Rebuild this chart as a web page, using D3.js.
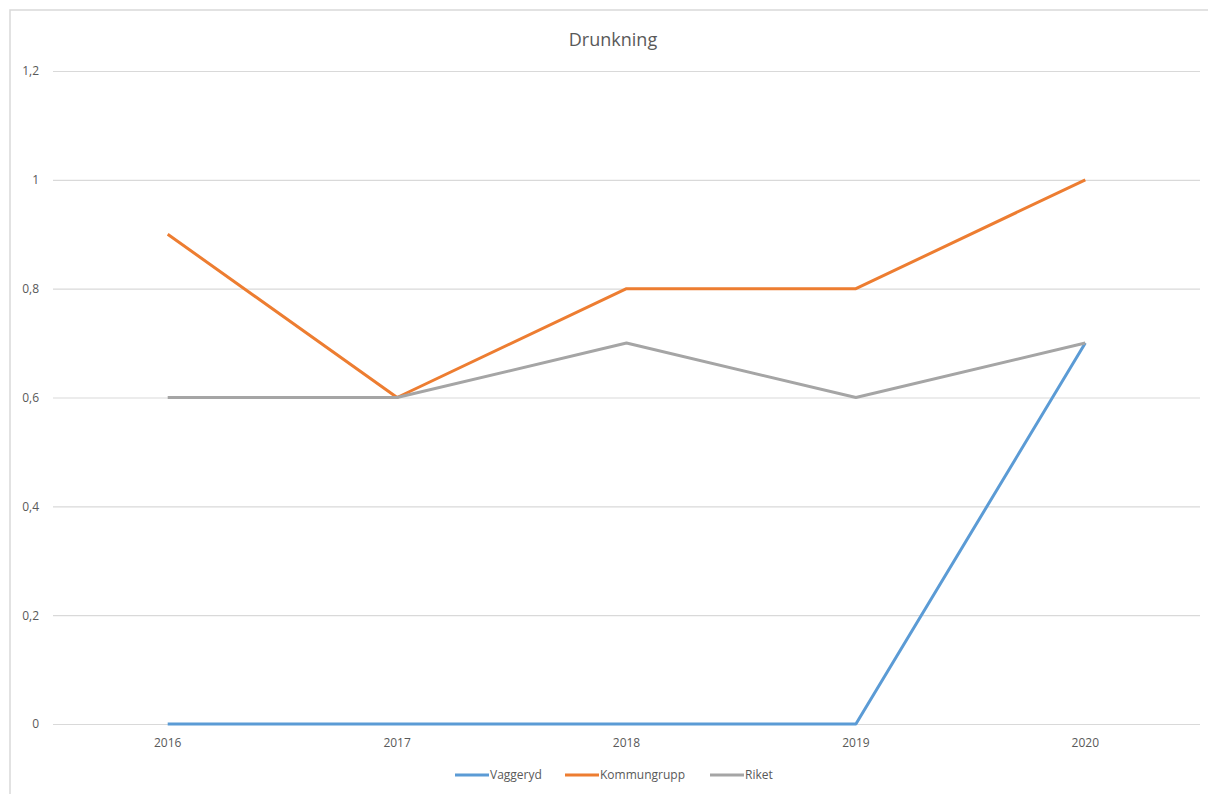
<!DOCTYPE html>
<html>
<head>
<meta charset="utf-8">
<script src="https://cdn.jsdelivr.net/npm/d3@7"></script>
<style>
  body { margin: 0; background: #fff; }
  svg { display: block; }
</style>
</head>
<body>
<script>
var years = ["2016", "2017", "2018", "2019", "2020"];
var vaggeryd = [0, 0, 0, 0, 0.7];
var kommungrupp = [0.9, 0.6, 0.8, 0.8, 1];
var riket = [0.6, 0.6, 0.7, 0.6, 0.7];
var yTicks = [0, 0.2, 0.4, 0.6, 0.8, 1, 1.2];

var series = [
    { name: "Vaggeryd", values: vaggeryd, color: "#5b9bd5" },
    { name: "Kommungrupp", values: kommungrupp, color: "#ed7d31" },
    { name: "Riket", values: riket, color: "#a5a5a5" }
];

var width = 1208, height = 794;
// plot area edges ("top" is taken by window.top, so use other names)
var plotLeft = 53, plotRight = 1200, plotTop = 71, plotBottom = 724;

var svg = d3.select("body").append("svg")
    .attr("width", width)
    .attr("height", height);

// chart frame
svg.append("rect")
    .attr("x", 10).attr("y", 10)
    .attr("width", width + 10).attr("height", height + 10)
    .attr("fill", "#fff")
    .attr("stroke", "#d9d9d9")
    .attr("stroke-width", 1.5);

var x = d3.scaleBand().domain(years).range([plotLeft, plotRight]);
var y = d3.scaleLinear().domain([0, 1.2]).range([plotBottom, plotTop]);

var fmt = function (d) { return String(d).replace(".", ","); };

// gridlines + y labels
var yAxis = d3.axisLeft(y)
    .tickValues(yTicks)
    .tickSize(-(plotRight - plotLeft))
    .tickPadding(14)
    .tickFormat(fmt);

var gy = svg.append("g")
    .attr("transform", "translate(" + plotLeft + ",0)")
    .call(yAxis);
gy.select(".domain").remove();
gy.selectAll(".tick line").attr("stroke", "#d9d9d9").attr("stroke-width", 1.2);
gy.selectAll(".tick text")
    .attr("fill", "#595959")
    .attr("font-family", "Open Sans, sans-serif")
    .attr("font-size", "12px");

// x labels
var xAxis = d3.axisBottom(x).tickSize(0).tickPadding(14);
var gx = svg.append("g")
    .attr("transform", "translate(0," + plotBottom + ")")
    .call(xAxis);
gx.select(".domain").remove();
gx.selectAll(".tick text")
    .attr("fill", "#595959")
    .attr("font-family", "Open Sans, sans-serif")
    .attr("font-size", "12px");

// lines
var line = d3.line()
    .x(function (d, i) { return x(years[i]) + x.bandwidth() / 2; })
    .y(function (d) { return y(d); });

svg.selectAll("path.series")
    .data(series)
    .enter()
    .append("path")
    .attr("class", "series")
    .attr("d", function (d) { return line(d.values); })
    .attr("fill", "none")
    .attr("stroke", function (d) { return d.color; })
    .attr("stroke-width", 3)
    .attr("stroke-linejoin", "round");

// title
svg.append("text")
    .attr("x", 613)
    .attr("y", 46)
    .attr("text-anchor", "middle")
    .attr("fill", "#595959")
    .attr("font-family", "Open Sans, sans-serif")
    .attr("font-size", "18px")
    .text("Drunkning");

// legend
var legendX = [455, 565, 710];
var lg = svg.selectAll("g.legend")
    .data(series)
    .enter()
    .append("g")
    .attr("class", "legend")
    .attr("transform", function (d, i) { return "translate(" + legendX[i] + ",775)"; });
lg.append("line")
    .attr("x1", 0).attr("x2", 34)
    .attr("stroke", function (d) { return d.color; })
    .attr("stroke-width", 3);
lg.append("text")
    .attr("x", 35)
    .attr("dy", "0.35em")
    .attr("fill", "#595959")
    .attr("font-family", "Open Sans, sans-serif")
    .attr("font-size", "12px")
    .text(function (d) { return d.name; });
</script>
</body>
</html>
